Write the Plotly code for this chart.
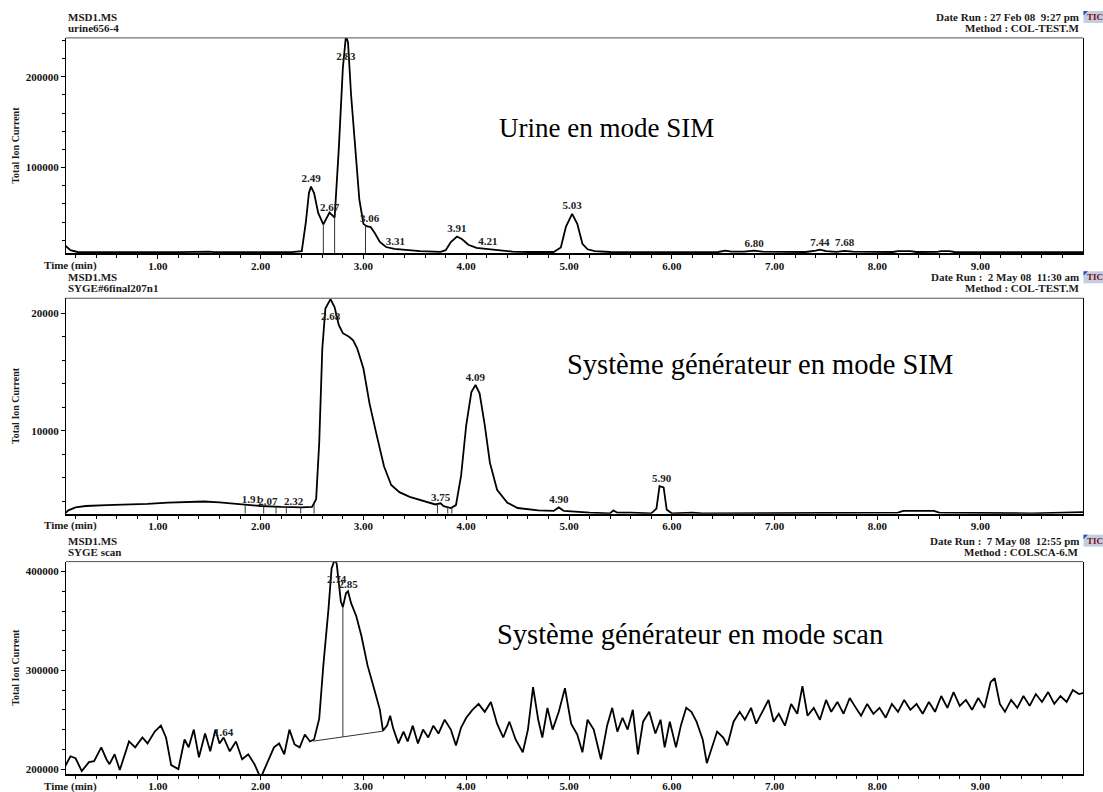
import plotly.graph_objects as go
import numpy as np

# ---------------- data ----------------
# Panel 1: Urine en mode SIM
urine_t = [0.10, 0.15, 0.22, 0.50, 0.70, 0.80, 1.20, 1.50, 1.55, 2.00, 2.30, 2.40, 2.44, 2.47, 2.49,
           2.52, 2.56, 2.61, 2.64, 2.67, 2.70, 2.72, 2.76, 2.80, 2.83, 2.85, 2.88, 2.92, 2.96, 3.00,
           3.03, 3.07, 3.11, 3.16, 3.22, 3.30, 3.40, 3.55, 3.75, 3.80, 3.85, 3.91, 3.96, 4.02, 4.10,
           4.21, 4.30, 4.45, 4.60, 4.85, 4.92, 4.97, 5.03, 5.08, 5.13, 5.18, 5.25, 5.40, 6.00, 6.45,
           6.52, 6.58, 6.70, 6.80, 6.88, 7.30, 7.40, 7.44, 7.50, 7.60, 7.68, 7.76, 8.15, 8.20, 8.32,
           8.38, 8.58, 8.62, 8.70, 8.75, 9.50, 10.0]
urine_v = [14000, 9000, 7000, 6800, 7200, 6900, 6800, 7500, 6900, 6700, 6900, 8000, 40000, 72000, 79000,
           72000, 50000, 37500, 45000, 50500, 47000, 45000, 120000, 210000, 245000, 238000, 180000, 120000, 65000, 38000,
           35500, 34500, 28000, 18000, 12500, 10500, 9500, 8000, 7200, 9000, 18000, 24000, 21000, 15000, 11500,
           10500, 9000, 7500, 7000, 7000, 12000, 35000, 49000, 38000, 16000, 10000, 8000, 7000, 6800, 7000,
           8500, 7500, 7300, 8500, 7500, 7000, 8500, 9500, 8000, 7200, 8300, 7300, 7000, 8000, 8000,
           7000, 7200, 8000, 8000, 7000, 6800, 6800]
urine_peaks = [2.49, 2.67, 2.83, 3.06, 3.31, 3.91, 4.21, 5.03, 6.80, 7.44, 7.68]
urine_label_v = [86800, 54900, 222000, 42900, 17600, 31900, 17600, 57100, 15400, 16500, 16500]
urine_drops = [2.61, 2.72, 3.02]

# Panel 2: Systeme generateur en mode SIM
sim_t = [0.10, 0.13, 0.20, 0.30, 0.50, 0.70, 0.90, 1.10, 1.30, 1.45, 1.60, 1.80, 2.00, 2.20, 2.40,
         2.50, 2.54, 2.57, 2.60, 2.63, 2.68, 2.72, 2.76, 2.80, 2.86, 2.90, 2.94, 3.00, 3.06, 3.13,
         3.20, 3.27, 3.35, 3.45, 3.60, 3.70, 3.75, 3.78, 3.85, 3.90, 3.95, 4.00, 4.05, 4.09, 4.13,
         4.18, 4.23, 4.30, 4.40, 4.50, 4.70, 4.85, 4.90, 4.95, 5.20, 5.40, 5.43, 5.47, 5.60, 5.80,
         5.85, 5.88, 5.92, 5.95, 6.00, 6.20, 6.30, 6.60, 6.90, 7.20, 7.60, 8.00, 8.20, 8.25, 8.55,
         8.60, 9.00, 9.50, 10.0]
sim_v = [3000, 3250, 3500, 3620, 3700, 3720, 3800, 3900, 3980, 4000, 3920, 3750, 3620, 3540, 3500,
         3550, 4200, 9000, 17000, 20400, 21200, 20500, 19000, 18300, 18000, 17700, 17000, 15300, 12300, 9600,
         7000, 5400, 4800, 4400, 4000, 3750, 3850, 3600, 3450, 3700, 6200, 10500, 13300, 13900, 13200,
         10500, 7300, 5000, 3900, 3450, 3250, 3200, 3500, 3200, 3050, 3000, 3250, 3050, 3050, 3000,
         3400, 5300, 5200, 3300, 3000, 3050, 3000, 3000, 3050, 3000, 3050, 3000, 3050, 3200, 3200,
         3050, 3050, 3000, 3100]
sim_peaks = [1.91, 2.07, 2.32, 2.68, 3.75, 4.09, 4.90, 5.90]
sim_label_v = [4150, 3980, 3980, 19660, 4240, 14490, 4150, 5850]
sim_drops = [1.85, 2.03, 2.15, 2.25, 2.39, 2.52, 3.72, 3.82, 3.86]

# Panel 3: Systeme generateur en mode scan
scan_t = [0.10, 0.15, 0.20, 0.26, 0.33, 0.38, 0.45, 0.50, 0.53, 0.58, 0.63, 0.72, 0.78, 0.85, 0.90,
          0.97, 1.03, 1.08, 1.13, 1.20, 1.26, 1.30, 1.35, 1.40, 1.46, 1.51, 1.56, 1.60, 1.64, 1.70,
          1.76, 1.82, 1.88, 1.94, 2.00, 2.06, 2.13, 2.18, 2.23, 2.28, 2.33, 2.38, 2.43, 2.48, 2.52,
          2.57, 2.61, 2.66, 2.69, 2.72, 2.74, 2.78, 2.80, 2.83, 2.85, 2.88, 2.93, 2.98, 3.04, 3.11,
          3.16, 3.19, 3.23, 3.26, 3.29, 3.34, 3.39, 3.43, 3.48, 3.53, 3.58, 3.63, 3.68, 3.73, 3.79,
          3.85, 3.90, 3.95, 4.00, 4.06, 4.12, 4.18, 4.24, 4.30, 4.36, 4.42, 4.48, 4.55, 4.60, 4.65,
          4.70, 4.74, 4.79, 4.84, 4.90, 4.96, 5.02, 5.08, 5.13, 5.18, 5.24, 5.31, 5.37, 5.42, 5.47,
          5.52, 5.57, 5.62, 5.67, 5.72, 5.78, 5.84, 5.89, 5.93, 5.98, 6.04, 6.09, 6.14, 6.19, 6.24,
          6.30, 6.34, 6.39, 6.44, 6.50, 6.54, 6.60, 6.66, 6.71, 6.77, 6.82, 6.88, 6.94, 6.99, 7.04,
          7.10, 7.16, 7.22, 7.27, 7.32, 7.38, 7.44, 7.50, 7.55, 7.61, 7.67, 7.73, 7.79, 7.84, 7.90,
          7.96, 8.02, 8.08, 8.14, 8.20, 8.26, 8.32, 8.38, 8.44, 8.50, 8.56, 8.62, 8.68, 8.74, 8.80,
          8.86, 8.92, 8.98, 9.04, 9.10, 9.14, 9.19, 9.24, 9.30, 9.36, 9.42, 9.48, 9.54, 9.60, 9.66,
          9.72, 9.78, 9.84, 9.90, 9.96, 10.0]
scan_v = [203000, 213000, 211000, 198000, 207000, 208000, 222000, 210000, 205000, 215000, 199000, 228000, 222000, 232000, 226000,
          238000, 244000, 232000, 204000, 200000, 230000, 222000, 240000, 212000, 236000, 218000, 240000, 226000, 232000, 218000,
          228000, 210000, 215000, 205000, 191000, 205000, 222000, 226000, 215000, 240000, 225000, 222000, 235000, 228000, 230000,
          251000, 305000, 362000, 403000, 412000, 408000, 370000, 364000, 378000, 380000, 368000, 355000, 335000, 305000, 279000,
          260000, 239000, 244000, 254000, 241000, 226000, 238000, 228000, 244000, 226000, 240000, 232000, 244000, 236000, 250000,
          240000, 224000, 242000, 252000, 260000, 266000, 258000, 268000, 246000, 232000, 248000, 230000, 217000, 240000, 283000,
          250000, 232000, 262000, 240000, 258000, 282000, 246000, 235000, 217000, 250000, 240000, 210000, 244000, 262000, 238000,
          252000, 240000, 260000, 215000, 248000, 258000, 236000, 250000, 222000, 248000, 222000, 245000, 262000, 258000, 248000,
          230000, 206000, 222000, 238000, 232000, 224000, 248000, 258000, 250000, 262000, 246000, 258000, 270000, 248000, 256000,
          244000, 266000, 256000, 284000, 254000, 262000, 250000, 270000, 258000, 268000, 256000, 272000, 262000, 254000, 266000,
          256000, 262000, 252000, 266000, 258000, 270000, 260000, 266000, 256000, 268000, 258000, 274000, 262000, 278000, 264000,
          270000, 260000, 272000, 262000, 288000, 292000, 266000, 258000, 270000, 262000, 274000, 264000, 276000, 268000, 278000,
          266000, 274000, 268000, 280000, 276000, 277000]
scan_peaks = [1.64, 2.74, 2.85]
scan_label_v = [236400, 390900, 385900]
scan_base_t = [2.51, 3.19]
scan_base_v = [228300, 238400]
scan_drops = [2.80]

headers = [("MSD1.MS", "urine656-4", "Date Run : 27 Feb 08  9:27 pm", "Method : COL-TEST.M"),
           ("MSD1.MS", "SYGE#6final207n1", "Date Run :  2 May 08  11:30 am", "Method : COL-TEST.M"),
           ("MSD1.MS", "SYGE scan", "Date Run :  7 May 08  12:55 pm", "Method : COLSCA-6.M")]
titles = ["Urine en mode SIM", "Système générateur en mode SIM", "Système générateur en mode scan"]
title_sizes = [27, 28.5, 28.5]

# ---------------- layout geometry (pixels) ----------------
W, H = 1103, 792
def px(x):
    return x / W
def py(y):
    return 1 - y / H

XL, XR = 66, 1083
panels = [
    dict(t=urine_t, v=urine_v, pk=urine_peaks, pkv=urine_label_v, drops=urine_drops,
         top=38, bot=254, yr=[5495, 242857], dt=100000, title_xy=(606, 128)),
    dict(t=sim_t, v=sim_v, pk=sim_peaks, pkv=sim_label_v, drops=sim_drops,
         top=299, bot=515, yr=[2966, 21271], dt=10000, title_xy=(760, 365)),
    dict(t=scan_t, v=scan_v, pk=scan_peaks, pkv=scan_label_v, drops=scan_drops,
         top=563, bot=776, yr=[195000, 410100], dt=100000, title_xy=(690, 636)),
]

SERIF = "Liberation Serif"
fig = go.Figure()
shapes = []
annots = []

for i, p in enumerate(panels):
    n = "" if i == 0 else str(i + 1)
    xa, ya = "x" + n, "y" + n
    fig.add_trace(go.Scatter(x=p["t"], y=p["v"], mode="lines",
                             line=dict(color="black", width=1.8),
                             xaxis=xa, yaxis=ya, showlegend=False, hoverinfo="skip"))
    # drop lines
    dx, dy = [], []
    for d in p["drops"]:
        top_v = float(np.interp(d, p["t"], p["v"]))
        if i == 2:
            b = float(np.interp(d, scan_base_t, scan_base_v))
        else:
            b = p["yr"][0]
        dx += [d, d, None]
        dy += [b, top_v, None]
    if i == 2:
        dx += scan_base_t + [None]
        dy += scan_base_v + [None]
    fig.add_trace(go.Scatter(x=dx, y=dy, mode="lines", line=dict(color="#333333", width=1),
                             xaxis=xa, yaxis=ya, showlegend=False, hoverinfo="skip"))
    # peak labels
    fig.add_trace(go.Scatter(x=p["pk"], y=p["pkv"], mode="text",
                             text=[f"{t:.2f}" for t in p["pk"]],
                             textposition="middle center",
                             textfont=dict(family=SERIF, size=11, color="#222", weight="bold"),
                             xaxis=xa, yaxis=ya, showlegend=False, hoverinfo="skip"))

    fig.layout["xaxis" + n] = dict(
        domain=[px(XL), px(XR)], anchor=ya, range=[0.107, 9.999],
        showline=True, linecolor="black", linewidth=2, mirror=False,
        ticks="outside", ticklen=4, tickcolor="black", tickwidth=1,
        tickmode="linear", tick0=0, dtick=1, tickformat=".2f",
        ticklabelstandoff=-3,
        minor=dict(tickmode="linear", tick0=0, dtick=0.2, ticks="outside", ticklen=3, tickcolor="black"),
        tickfont=dict(family=SERIF, size=11, color="#111", weight="bold"),
        showgrid=False, zeroline=False)
    fig.layout["yaxis" + n] = dict(
        domain=[py(p["bot"]), py(p["top"])], anchor=xa, range=p["yr"],
        showline=True, linecolor="black", linewidth=1.3, mirror=True,
        ticks="outside", ticklen=4, tickcolor="black",
        tickmode="linear", tick0=0, dtick=p["dt"], tickformat="d",
        minor=dict(tickmode="linear", tick0=0, dtick=p["dt"] / 5, ticks="outside", ticklen=3, tickcolor="black"),
        tickfont=dict(family=SERIF, size=11, color="#111", weight="bold"),
        showgrid=False, zeroline=False)

    # top border
    shapes.append(dict(type="line", xref="paper", yref="paper",
                       x0=px(XL), x1=px(XR), y0=py(p["top"]), y1=py(p["top"]),
                       line=dict(color="#555", width=1)))

    h = headers[i]
    l1, l2 = p["top"] - 21, p["top"] - 10
    hf = dict(family=SERIF, size=11, color="#1a1a1a", weight="bold")
    annots += [
        dict(text=h[0], x=px(XL), y=py(l1), xanchor="left", yanchor="middle", font=hf),
        dict(text=h[1], x=px(XL), y=py(l2), xanchor="left", yanchor="middle", font=hf),
        dict(text=h[2], x=px(1081), y=py(l1), xanchor="right", yanchor="middle", font=hf),
        dict(text=h[3], x=px(1081), y=py(l2), xanchor="right", yanchor="middle", font=hf),
        dict(text="Time (min)", x=px(42), y=py(p["bot"] + 12), xanchor="left", yanchor="middle", font=hf),
        dict(text="Total Ion Current", x=px(16), y=py((p["top"] + p["bot"]) / 2), textangle=-90,
             xanchor="center", yanchor="middle", font=dict(family=SERIF, size=10, color="#1a1a1a", weight="bold")),
        dict(text=titles[i], x=px(p["title_xy"][0]), y=py(p["title_xy"][1]), xanchor="center", yanchor="middle",
             font=dict(family=SERIF, size=title_sizes[i], color="black")),
        dict(text="TIC", x=px(1085), y=py(l1), xanchor="left", yanchor="middle",
             font=dict(family=SERIF, size=9, color="#7a0f0f", weight="bold")),
    ]
    # TIC icon
    shapes.append(dict(type="rect", xref="paper", yref="paper", x0=px(1083.5), x1=px(1103),
                       y0=py(l1 + 6), y1=py(l1 - 6), fillcolor="#c3cce0", line=dict(width=0), layer="below"))
    shapes.append(dict(type="path", xref="paper", yref="paper",
                       path=f"M {px(1083.5)},{py(l1 - 6)} L {px(1088)},{py(l1 - 6)} L {px(1083.5)},{py(l1 - 1.5)} Z",
                       fillcolor="#1f4fd0", line=dict(width=0)))

for a in annots:
    a.update(xref="paper", yref="paper", showarrow=False)

fig.update_layout(width=W, height=H, margin=dict(l=0, r=0, t=0, b=0),
                  paper_bgcolor="white", plot_bgcolor="white",
                  shapes=shapes, annotations=annots, showlegend=False)
fig.write_html("out.html")
